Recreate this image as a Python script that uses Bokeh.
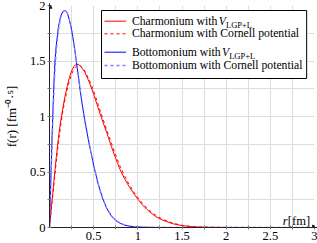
import math
from bokeh.plotting import figure
from bokeh.models import (Range1d, FixedTicker, Label, Arrow, NormalHead, BoxAnnotation)
from bokeh.embed import file_html
from bokeh.resources import INLINE

# ---------------- data ----------------
r = [0, 0.01, 0.02, 0.03, 0.04, 0.05, 0.06, 0.075, 0.1, 0.125, 0.15, 0.175, 0.2, 0.225,
     0.25, 0.275, 0.3, 0.325, 0.35, 0.375, 0.4, 0.45, 0.5, 0.55, 0.6, 0.65, 0.7, 0.75,
     0.8, 0.85, 0.9, 0.95, 1.0, 1.05, 1.1, 1.15, 1.2, 1.25, 1.3, 1.4, 1.5, 1.6, 1.7,
     1.8, 1.9, 2.0, 2.25, 2.5, 2.75, 3.0]

charm_lgp = [0, 0.085, 0.17, 0.25, 0.335, 0.42, 0.50, 0.62, 0.80, 0.95, 1.07, 1.18, 1.27, 1.35,
             1.41, 1.45, 1.47, 1.47, 1.455, 1.43, 1.40, 1.31, 1.20, 1.08, 0.96, 0.85, 0.73, 0.62,
             0.52, 0.44, 0.37, 0.31, 0.255, 0.205, 0.165, 0.13, 0.10, 0.078, 0.06, 0.033, 0.017,
             0.008, 0.004, 0.002, 0.001, 0.0005, 0.0001, 0, 0, 0]

charm_cornell = [0, 0.078, 0.157, 0.235, 0.31, 0.39, 0.465, 0.58, 0.76, 0.91, 1.04, 1.15, 1.24, 1.32,
                 1.38, 1.425, 1.45, 1.46, 1.455, 1.44, 1.41, 1.33, 1.23, 1.11, 0.99, 0.875, 0.76, 0.65,
                 0.55, 0.465, 0.39, 0.325, 0.27, 0.22, 0.178, 0.142, 0.112, 0.088, 0.068, 0.038, 0.02,
                 0.01, 0.005, 0.0025, 0.0012, 0.0006, 0.0001, 0, 0, 0]

bottom_lgp = [0, 0.29, 0.57, 0.84, 1.08, 1.30, 1.47, 1.63, 1.80, 1.90, 1.945, 1.957, 1.935, 1.87,
              1.78, 1.66, 1.52, 1.37, 1.22, 1.085, 0.96, 0.75, 0.56, 0.395, 0.265, 0.17, 0.105, 0.064,
              0.038, 0.022, 0.013, 0.008, 0.005, 0.003, 0.002, 0.0013, 0.0008, 0.0005, 0.0003, 0.0001, 0,
              0, 0, 0, 0, 0, 0, 0, 0, 0]

bottom_cornell = [0, 0.26, 0.52, 0.77, 1.00, 1.21, 1.39, 1.58, 1.77, 1.89, 1.94, 1.955, 1.935, 1.875,
                  1.785, 1.665, 1.525, 1.38, 1.23, 1.09, 0.965, 0.75, 0.56, 0.395, 0.265, 0.17, 0.105, 0.064,
                  0.038, 0.022, 0.013, 0.008, 0.005, 0.003, 0.002, 0.0013, 0.0008, 0.0005, 0.0003, 0.0001, 0,
                  0, 0, 0, 0, 0, 0, 0, 0, 0]

x_ticks = [0.5, 1, 1.5, 2, 2.5, 3]
x_tick_labels = ["0.5", "1", "1.5", "2", "2.5", "3"]
x_minor = [0.25, 0.75, 1.25, 1.75, 2.25, 2.75]
y_ticks = [0, 0.5, 1, 1.5, 2]
y_tick_labels = ["0", "0.5", "1", "1.5", "2"]
y_minor = [0.25, 0.75, 1.25, 1.75]

legend_texts = ["Charmonium with", "Charmonium with Cornell potential",
                "Bottomonium with", "Bottomonium with Cornell potential"]
subscript_text = "LGP+L"
y_label = "f(r) [fm\u207b\u2070\u00b7\u2075]"

# ---------------- layout constants ----------------
W, H = 317, 243
LEFT, RIGHT, TOP, BOTTOM = 44, 3, 5, 16
FW = W - LEFT - RIGHT
FH = H - TOP - BOTTOM
SX = FW / 3.0
SY = FH / 2.0
FONT = "Liberation Serif"

def dx(px):   # window px -> data x
    return (px - LEFT) / SX

def dy(py):   # window py -> data y
    return (H - BOTTOM - py) / SY

p = figure(width=W, height=H, x_range=Range1d(0, 3), y_range=Range1d(0, 2),
           output_backend="svg", toolbar_location=None,
           min_border_left=LEFT, min_border_right=RIGHT,
           min_border_top=TOP, min_border_bottom=BOTTOM,
           outline_line_color=None)
p.background_fill_color = "white"
p.border_fill_color = "white"

xt = FixedTicker(ticks=x_ticks, minor_ticks=x_minor)
yt = FixedTicker(ticks=y_ticks, minor_ticks=y_minor)
p.xaxis.ticker = xt
p.yaxis.ticker = yt
p.xgrid.ticker = xt
p.ygrid.ticker = yt
p.xaxis.major_label_overrides = {t: l for t, l in zip(x_ticks, x_tick_labels)}
p.yaxis.major_label_overrides = {t: l for t, l in zip(y_ticks, y_tick_labels)}

for ax in (p.xaxis, p.yaxis):
    ax.axis_line_color = "#222222"
    ax.axis_line_width = 1
    ax.major_tick_in = 2
    ax.major_tick_out = 2
    ax.minor_tick_in = 2
    ax.minor_tick_out = 2
    ax.major_tick_line_color = "#777777"
    ax.minor_tick_line_color = "#777777"
    ax.major_label_text_font = FONT
    ax.major_label_text_font_size = "12.5px"
    ax.major_label_text_color = "black"
    ax.major_label_standoff = 2

p.yaxis.axis_label = y_label
p.yaxis.axis_label_text_font = FONT
p.yaxis.axis_label_text_font_style = "normal"
p.yaxis.axis_label_text_font_size = "13px"
p.yaxis.axis_label_text_color = "black"
p.yaxis.axis_label_standoff = 8

for g in (p.xgrid, p.ygrid):
    g.grid_line_color = "#dddddd"
    g.minor_grid_line_color = "#dddddd"
    g.grid_line_width = 1
    g.minor_grid_line_width = 1

styles = [dict(line_color="#ff0000", line_width=1),
          dict(line_color="#ff0000", line_width=1, line_dash="3 3"),
          dict(line_color="#0000ff", line_width=1),
          dict(line_color="#8080ff", line_width=1.3, line_dash="3 3")]
series = [charm_lgp, charm_cornell, bottom_lgp, bottom_cornell]

for s, st in zip(series, styles):
    p.line(r, s, **st)

# ---------------- hand-made legend ----------------
p.add_layout(BoxAnnotation(left=dx(97), right=dx(306), top=dy(10), bottom=dy(78),
                           fill_color="white", fill_alpha=1, line_color="black",
                           line_width=1, line_alpha=1, level="underlay"))
row_y = [20.7, 33.3, 51.7, 65.0]
LFS = 11.7
for txt, st, yy in zip(legend_texts, styles, row_y):
    p.line([dx(100), dx(122)], [dy(yy), dy(yy)], **st)
    p.add_layout(Label(x=dx(128), y=dy(yy), text=txt, text_font=FONT, text_font_size=f"{LFS}px",
                       text_baseline="middle", text_align="left", text_color="black"))

# italic V with subscript for rows 1 and 3
for vx, yy in ((128 + 7.556 * LFS, row_y[0]), (128 + 7.835 * LFS, row_y[2])):
    p.add_layout(Label(x=dx(vx), y=dy(yy), text="V", text_font=FONT, text_font_style="italic",
                       text_font_size=f"{LFS}px", text_baseline="middle", text_align="left",
                       text_color="black"))
    p.add_layout(Label(x=dx(vx + 7.4), y=dy(yy + 3.5), text=subscript_text, text_font=FONT,
                       text_font_size="8.5px", text_baseline="middle", text_align="left",
                       text_color="black"))

# x axis label  "r [fm]"
p.add_layout(Label(x=dx(309.5), y=dy(220), text="[fm]", text_font=FONT, text_font_size="12.5px",
                   text_align="right", text_baseline="alphabetic", text_color="black"))
p.add_layout(Label(x=dx(286.7), y=dy(220), text="r", text_font=FONT, text_font_style="italic",
                   text_font_size="12.5px", text_align="right", text_baseline="alphabetic", text_color="black"))

# axis arrows
p.add_layout(Arrow(x_start=2.9, y_start=0, x_end=3.035, y_end=0, line_color="#222222", line_width=1,
                   end=NormalHead(size=5, fill_color="#222222", line_color="#222222")))
p.add_layout(Arrow(x_start=0, y_start=1.9, x_end=0, y_end=2.02, line_color="#222222", line_width=1,
                   end=NormalHead(size=5, fill_color="#222222", line_color="#222222")))

open("out.html", "w").write(file_html(p, INLINE))
